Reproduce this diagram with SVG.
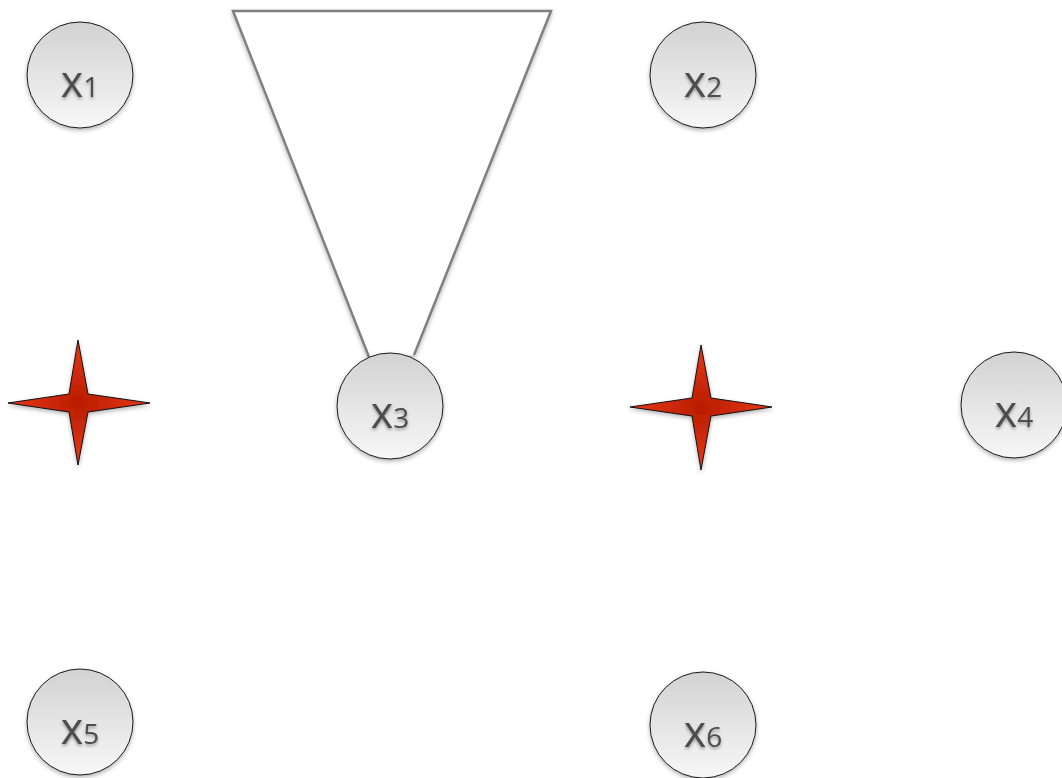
<svg xmlns="http://www.w3.org/2000/svg" width="1062" height="778" viewBox="0 0 1062 778">
<defs>
<linearGradient id="cg" x1="0" y1="0" x2="0" y2="1">
<stop offset="0" stop-color="#d2d2d2"/>
<stop offset="1" stop-color="#f7f7f7"/>
</linearGradient>
<radialGradient id="sg" cx="0.5" cy="0.5" r="0.5">
<stop offset="0" stop-color="#b81c00"/>
<stop offset="1" stop-color="#e83a18"/>
</radialGradient>
<filter id="sh" x="-20%" y="-20%" width="140%" height="140%">
<feDropShadow dx="0" dy="2" stdDeviation="2" flood-color="#000" flood-opacity="0.3"/>
</filter>
<filter id="ts" x="-20%" y="-20%" width="140%" height="140%">
<feDropShadow dx="0" dy="2" stdDeviation="1.5" flood-color="#000" flood-opacity="0.35"/>
</filter>
</defs>
<style>
.node circle{fill:url(#cg);stroke:#1a1a1a;stroke-width:1;filter:url(#sh)}
.node text{font-family:"Open Sans","DejaVu Sans",sans-serif;fill:#4d4d4d;filter:url(#ts);text-anchor:middle}
.v{font-size:43px}
.s{font-size:28px}
.star{fill:url(#sg);stroke:#111;stroke-width:1;filter:url(#sh)}
.conn{fill:#fff;stroke:#808080;stroke-width:2.5;filter:url(#sh)}
</style>
<g id="connectors">
<path class="conn" d="M369,357 L233,11 L551,11 L414,355"/>
</g>
<g id="x1" class="node"><circle cx="80" cy="75" r="53"/><text x="80" y="97"><tspan class="v">x</tspan><tspan class="s">1</tspan></text></g>
<g id="x2" class="node"><circle cx="703" cy="75" r="53"/><text x="703" y="97"><tspan class="v">x</tspan><tspan class="s">2</tspan></text></g>
<g id="x3" class="node"><circle cx="390" cy="406" r="53"/><text x="390" y="428"><tspan class="v">x</tspan><tspan class="s">3</tspan></text></g>
<g id="x4" class="node"><circle cx="1014" cy="405" r="53"/><text x="1014" y="427"><tspan class="v">x</tspan><tspan class="s">4</tspan></text></g>
<g id="x5" class="node"><circle cx="80" cy="722" r="53"/><text x="80" y="744"><tspan class="v">x</tspan><tspan class="s">5</tspan></text></g>
<g id="x6" class="node"><circle cx="703" cy="725" r="53"/><text x="703" y="747"><tspan class="v">x</tspan><tspan class="s">6</tspan></text></g>
<g id="star1"><path class="star" d="M78,340 L88,394 L150,403 L88,412 L78,465 L69,412 L8,403 L69,394 Z"/></g>
<g id="star2"><path class="star" d="M701,345 L711,398 L772,407 L711,416 L701,470 L692,416 L630,407 L692,398 Z"/></g>
</svg>
